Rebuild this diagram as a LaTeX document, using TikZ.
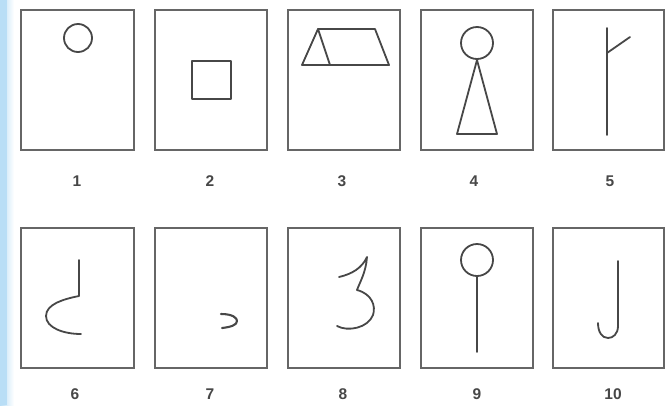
\documentclass[tikz,border=0pt]{standalone}
\usepackage{fontspec}
\setmainfont{Liberation Sans}
\definecolor{stripblue}{RGB}{185,222,246}
\begin{document}
\begin{tikzpicture}[x=1pt,y=-1pt,
  frame/.style={draw=black!60,line width=1.6pt},
  glyph/.style={draw=black!72,line width=1.8pt,line cap=round,line join=round},
  lbl/.style={font=\fontsize{15.5}{15.5}\selectfont\bfseries,text=black!72,inner sep=0pt}]
\useasboundingbox (0,0) rectangle (666,405);
\fill[white] (0,0) rectangle (666,405);
\shade[left color=stripblue,right color=white] (0,0) rectangle (14,405);
\fill[stripblue] (0,0) rectangle (7,405);
% frames
\foreach \a/\b in {21/134,155/267,288/400,421/533,553/664}{
  \draw[frame] (\a,10) rectangle (\b,150);
  \draw[frame] (\a,228) rectangle (\b,368);
}
% 1
\draw[glyph] (78,38) circle[radius=14];
% 2
\draw[glyph] (192,61) rectangle (231,99);
% 3
\draw[glyph] (302,65) -- (318,29) -- (375,29) -- (389,65) -- cycle;
\draw[glyph] (318,29) -- (330,65);
% 4
\draw[glyph] (477,43) circle[radius=16];
\draw[glyph] (477,60) -- (457,134) -- (497,134) -- cycle;
% 5
\draw[glyph] (607,28) -- (607,135);
\draw[glyph] (607,53) -- (630,37);
% 6
\draw[glyph] (79,260) -- (79,296) .. controls (64,299) and (46,304) .. (46,316) .. controls (46,328) and (64,334) .. (81,334);
% 7
\draw[glyph,line width=2.1pt] (221,314) .. controls (233,314) and (237,318) .. (237,321) .. controls (237,325) and (231,327) .. (222,328);
% 8
\draw[glyph] (339,277) .. controls (352,274) and (362,268) .. (367,257) .. controls (366,272) and (360,282) .. (357,290) .. controls (372,294) and (376,306) .. (373,315) .. controls (368,328) and (348,332) .. (337,326);
% 9
\draw[glyph] (477,260) circle[radius=16];
\draw[glyph] (477,276) -- (477,352);
% 10
\draw[glyph] (618,261) -- (618,326) .. controls (618,334) and (613,338) .. (608,338) .. controls (602,338) and (598,332) .. (598,323);
% labels
\node[lbl] (l1) at (77,181) {1};
\node[lbl] (l2) at (210,181) {2};
\node[lbl] (l3) at (342,181) {3};
\node[lbl] (l4) at (474,181) {4};
\node[lbl] (l5) at (610,181) {5};
\node[lbl] (l6) at (75,394) {6};
\node[lbl] (l7) at (210,394) {7};
\node[lbl] (l8) at (343,394) {8};
\node[lbl] (l9) at (477,394) {9};
\node[lbl] (l10) at (613,394) {10};
\end{tikzpicture}
\end{document}
